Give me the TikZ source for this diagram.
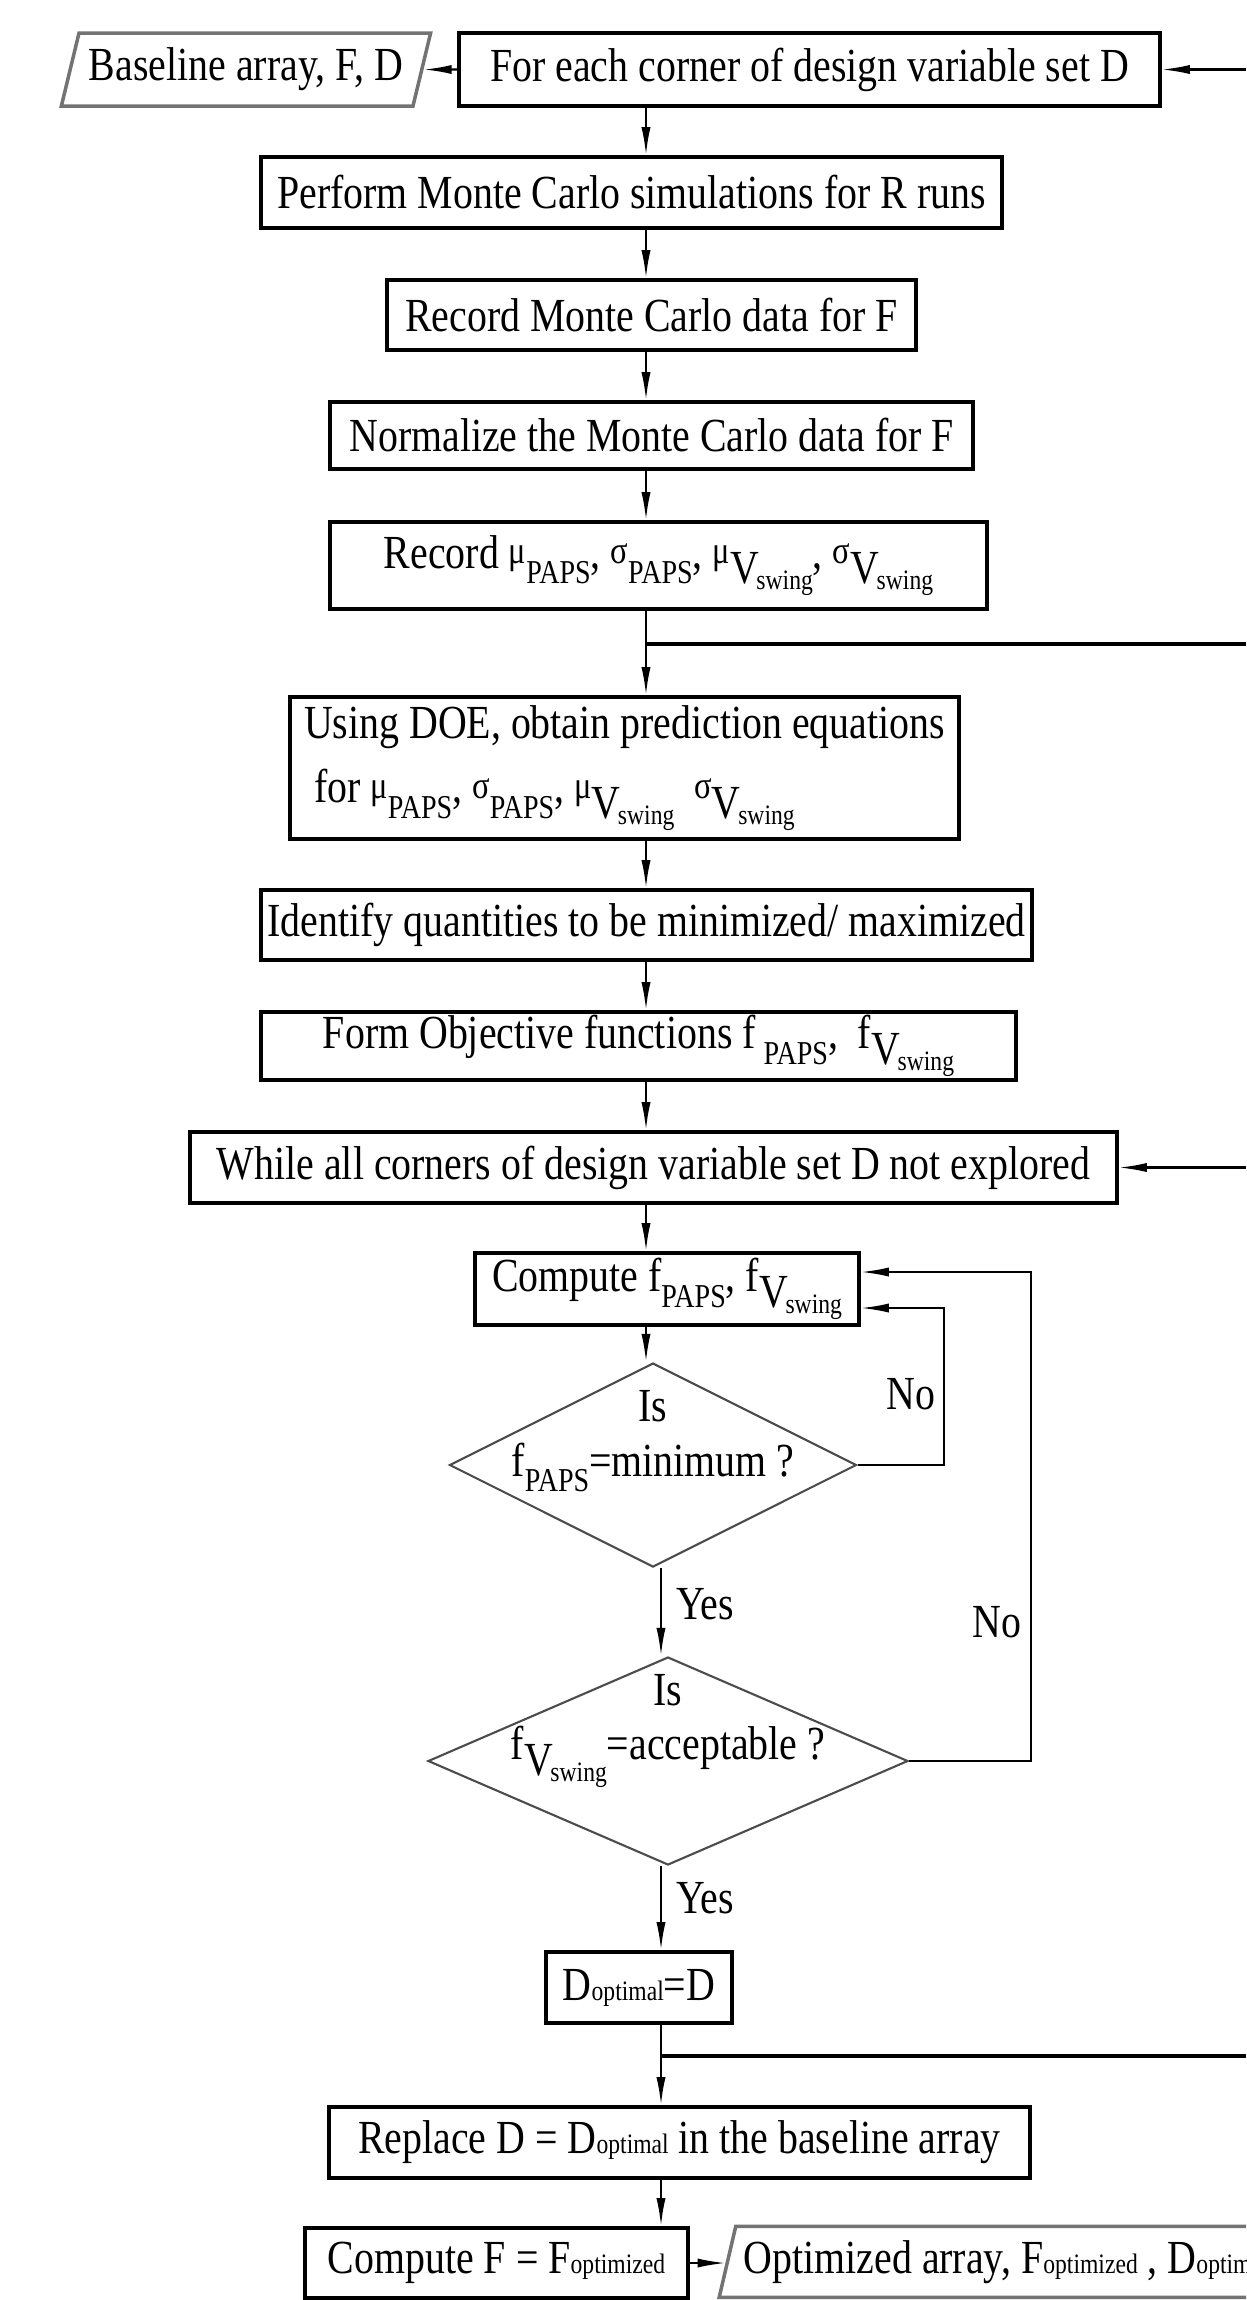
\documentclass[tikz,border=0pt]{standalone}
\usepackage{fontspec}
\setmainfont{Liberation Serif}[FakeStretch=0.84]
\usetikzlibrary{positioning, arrows.meta, shapes.geometric}

% helpers for the small indices of the scanned labels
\newcommand{\tinysub}[1]{{\fontsize{8}{9}\selectfont #1}}
\newcommand{\grk}[1]{\raisebox{0.2ex}{\fontsize{11}{11}\selectfont #1}}
\newcommand{\paps}{\raisebox{-0.7ex}{\fontsize{9.5}{10}\selectfont PAPS}}
\newcommand{\vsw}{\raisebox{-0.7ex}{V\kern-0.05em\raisebox{-0.3ex}{\tinysub{swing}}}}

\begin{document}
\begin{tikzpicture}[x=1mm, y=-1mm,
  font=\fontsize{13.5}{15.5}\selectfont,
  procbox/.style={draw, line width=1pt, inner sep=0pt, align=center},
  iobox/.style={trapezium, trapezium left angle=69, trapezium right angle=111,
    trapezium stretches=true, draw=black!55, line width=1pt, inner sep=0pt},
  decision/.style={diamond, draw=black!70, line width=0.6pt, inner sep=0pt},
  flow/.style={-{Latex[length=8pt, width=2.6pt]}, line width=0.6pt},
  feed/.style={line width=0.9pt},
  lbl/.style={inner sep=0pt}
]
\useasboundingbox (0,0) rectangle (124.6,230);
\clip (0,0) rectangle (124.6,230);

% flow lines and the cut right margin
\coordinate (upflow) at (64.6,0);
\coordinate (lowflow) at (66.1,0);
\coordinate (rim) at (124.6,0);

% main column
\node[iobox, minimum width=37mm, minimum height=7.3mm] (base) at (24.6,6.95) {Baseline array, F, D};
\node[procbox, minimum width=70.1mm, minimum height=7.3mm] (foreach) at (80.95,6.95) {For each corner of design variable set D};
\node[procbox, minimum width=74.1mm, minimum height=7.1mm] (perform) at (63.15,19.25) {Perform Monte Carlo simulations for R runs};
\node[procbox, minimum width=52.9mm, minimum height=7mm] (recmc) at (65.15,31.5) {Record Monte Carlo data for F};
\node[procbox, minimum width=64.3mm, minimum height=6.7mm] (norm) at (65.15,43.55) {Normalize the Monte Carlo data for F};
\node[procbox, minimum width=65.7mm, minimum height=8.7mm] (recstat) at (65.85,56.55) {Record \grk{μ}\paps, \grk{σ}\paps, \grk{μ}\vsw, \grk{σ}\vsw};
\node[procbox, align=left, minimum width=66.9mm, minimum height=14.2mm] (doe) at (62.45,76.8)
  {Using DOE, obtain prediction equations\\[1mm]\ for \grk{μ}\paps, \grk{σ}\paps, \grk{μ}\vsw\ \ \grk{σ}\vsw};
\node[procbox, minimum width=77.1mm, minimum height=7mm] (ident) at (64.65,92.5) {Identify quantities to be minimized/ maximized};
\node[procbox, minimum width=75.5mm, minimum height=6.8mm] (form) at (63.85,104.6) {Form Objective functions f\,\paps,\ \ f\vsw};
\node[procbox, minimum width=92.7mm, minimum height=7.1mm] (while) at (65.35,116.75) {While all corners of design variable set D not explored};
\node[procbox, minimum width=38.4mm, minimum height=7.2mm] (compf) at (66.7,128.9) {Compute f\paps, f\vsw};

% decisions
\node[decision, minimum width=40.7mm, minimum height=20.4mm] (dec1) at (65.3,146.5) {};
\node[align=center] (dec1txt) at ([yshift=2.4mm]dec1.center) {Is\\f\paps=minimum ?};
\node[decision, minimum width=48mm, minimum height=20.8mm] (dec2) at (66.8,176.1) {};
\node[align=center] (dec2txt) at ([yshift=3mm]dec2.center) {Is\\f\vsw=acceptable ?};

% tail
\node[procbox, minimum width=18.6mm, minimum height=7.1mm] (dopt) at (63.9,198.75) {D\tinysub{optimal}=D};
\node[procbox, minimum width=70.1mm, minimum height=7.1mm] (repl) at (67.95,214.25) {Replace D = D\tinysub{optimal} in the baseline array};
\node[procbox, minimum width=38.3mm, minimum height=7mm] (compF) at (49.65,226.3) {Compute F = F\tinysub{optimized}};
\node[iobox, anchor=bottom left corner, minimum height=7.1mm, inner xsep=0.8mm] (optarr) at (71.7,229.9)
  {Optimized array, F\tinysub{optimized} , D\tinysub{optimal}};

% connectors down the column
\foreach \a/\b in {foreach/perform, perform/recmc, recmc/norm, norm/recstat, recstat/doe,
                   doe/ident, ident/form, form/while, while/compf, compf/dec1}
  \draw[flow] (\a.south -| upflow) -- (\b.north -| upflow);
\foreach \a/\b in {dec1/dec2, dec2/dopt, dopt/repl, repl/compF}
  \draw[flow] (\a.south -| lowflow) -- (\b.north -| lowflow);

% input and output arrays
\draw[flow] (foreach.west) -- (base.east);
\draw[flow] (compF.east) -- (compF.east -| optarr.west);

% returns coming in from the cut-off right side
\draw[flow] (foreach.east -| rim) -- (foreach.east);
\draw[flow] (while.east -| rim) -- (while.east);
\coordinate (join1) at (64.6,64.4);
\draw[feed] (join1) -- (join1 -| rim);
\coordinate (join2) at (66.1,205.6);
\draw[feed] (join2) -- (join2 -| rim);

% retry loops
\coordinate (loopA) at (94.4,130.8);
\coordinate (loopB) at (103.1,127.2);
\draw[flow] (dec1.east) -| (loopA) -- (loopA -| compf.east);
\draw[flow] (dec2.east) -| (loopB) -- (loopB -| compf.east);
\node[lbl] (no1) at (91.1,139.4) {No};
\node[lbl] (no2) at (99.7,162.2) {No};
\node[lbl] (yes1) at (70.5,160.4) {Yes};
\node[lbl] (yes2) at (70.5,189.8) {Yes};

\end{tikzpicture}
\end{document}
